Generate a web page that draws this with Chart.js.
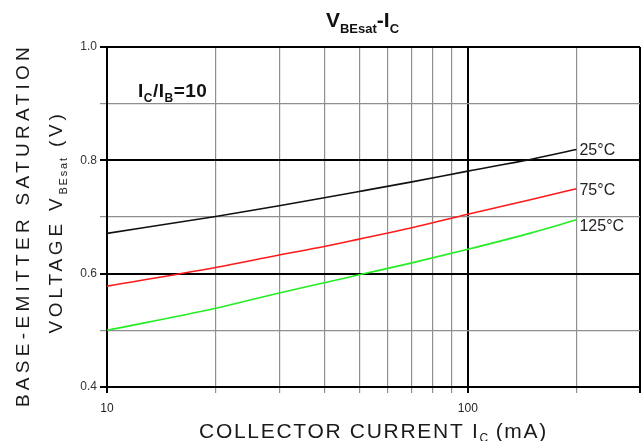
<!DOCTYPE html>
<html>
<head>
<meta charset="utf-8">
<script src="https://cdn.jsdelivr.net/npm/chart.js@4"></script>
<style>
html,body{margin:0;padding:0;background:#fff;}
#wrap{width:644px;height:441px;position:relative;}
</style>
</head>
<body>
<div id="wrap"><canvas id="c" width="644" height="441"></canvas></div>
<script>
// ---- data ----
const currents = [10, 20, 30, 40, 50, 70, 100, 150, 200];          // IC (mA)
const vbe25  = [0.671, 0.701, 0.720, 0.734, 0.745, 0.762, 0.781, 0.802, 0.819];
const vbe75  = [0.578, 0.611, 0.633, 0.648, 0.661, 0.681, 0.705, 0.731, 0.750];
const vbe125 = [0.500, 0.539, 0.566, 0.584, 0.598, 0.619, 0.643, 0.672, 0.695];
const seriesNames = ['25°C', '75°C', '125°C'];
const xTicks = [10, 20, 30, 40, 50, 60, 70, 80, 90, 100, 200, 300];
const xLabels = [10, 100];
const xMajor = [10, 100, 300];
const yTicks = [0.4, 0.5, 0.6, 0.7, 0.8, 0.9, 1.0];
const yLabels = ['0.4', '', '0.6', '', '0.8', '', '1.0'];

const FONT = 'Arial, "Liberation Sans", sans-serif';

function toPts(ys){ return currents.map((x,i)=>({x, y: ys[i]})); }

function richWidth(ctx, segs){
  let w = 0;
  segs.forEach(s=>{
    ctx.font = (s.bold?'bold ':'') + s.size + 'px ' + FONT;
    ctx.letterSpacing = (s.ls||0) + 'px';
    w += ctx.measureText(s.t).width;
  });
  return w;
}
function drawRich(ctx, segs, x, y, align){
  const w = richWidth(ctx, segs);
  let cx = align === 'left' ? x : x - w/2;
  ctx.textAlign = 'left';
  ctx.textBaseline = 'alphabetic';
  segs.forEach(s=>{
    ctx.font = (s.bold?'bold ':'') + s.size + 'px ' + FONT;
    ctx.letterSpacing = (s.ls||0) + 'px';
    ctx.fillStyle = s.color || '#111';
    ctx.fillText(s.t, cx, y + (s.dy||0));
    cx += ctx.measureText(s.t).width;
  });
  ctx.letterSpacing = '0px';
}

const decorPlugin = {
  id: 'decor',
  afterDraw(chart){
    const ctx = chart.ctx;
    const xs = chart.scales.x, ys = chart.scales.y;
    const ca = chart.chartArea;
    ctx.save();
    // title
    drawRich(ctx, [
      {t:'V', size:21, bold:true},
      {t:'BEsat', size:13, bold:true, dy:6},
      {t:'-I', size:21, bold:true},
      {t:'C', size:13, bold:true, dy:6}
    ], (ca.left+ca.right)/2 - 11, 27);
    // x title
    drawRich(ctx, [
      {t:'COLLECTOR CURRENT I', size:21, ls:1.7, color:'#1a1a1a'},
      {t:'C', size:12, dy:4, color:'#1a1a1a'},
      {t:' (mA)', size:21, ls:1.7, color:'#1a1a1a'}
    ], (ca.left+ca.right)/2, 438);
    // y titles (rotated)
    ctx.save();
    ctx.translate(29, 225);
    ctx.rotate(-Math.PI/2);
    drawRich(ctx, [{t:'BASE-EMITTER SATURATION', size:19, ls:4.3, color:'#1a1a1a'}], 0, 0);
    ctx.restore();
    ctx.save();
    ctx.translate(62, 222);
    ctx.rotate(-Math.PI/2);
    drawRich(ctx, [
      {t:'VOLTAGE V', size:19, ls:3.8, color:'#1a1a1a'},
      {t:'BEsat', size:11, ls:1.8, dy:5, color:'#1a1a1a'},
      {t:' (V)', size:19, ls:3.8, color:'#1a1a1a'}
    ], 0, 0);
    ctx.restore();
    // annotation IC/IB=10
    drawRich(ctx, [
      {t:'I', size:19, bold:true, ls:0.5},
      {t:'C', size:12, bold:true, dy:5, ls:0.5},
      {t:'/I', size:19, bold:true, ls:0.5},
      {t:'B', size:12, bold:true, dy:5, ls:0.5},
      {t:'=10', size:19, bold:true, ls:0.5}
    ], 138, 97, 'left');
    // series end labels
    const offs = [1, 2, 7];
    chart.data.datasets.forEach((ds, i)=>{
      const last = ds.data[ds.data.length-1];
      const px = xs.getPixelForValue(last.x) + 3;
      const py = ys.getPixelForValue(last.y) + offs[i];
      ctx.font = '16px ' + FONT;
      ctx.fillStyle = '#222';
      ctx.textAlign = 'left';
      ctx.textBaseline = 'middle';
      ctx.fillText(seriesNames[i], px, py);
    });
    ctx.restore();
  }
};

new Chart(document.getElementById('c'), {
  type: 'line',
  data: {
    datasets: [
      {label: seriesNames[0], data: toPts(vbe25),  borderColor:'#111111', borderWidth:1.6, pointRadius:0, cubicInterpolationMode:'monotone', fill:false},
      {label: seriesNames[1], data: toPts(vbe75),  borderColor:'#ff1a1a', borderWidth:1.6, pointRadius:0, cubicInterpolationMode:'monotone', fill:false},
      {label: seriesNames[2], data: toPts(vbe125), borderColor:'#22ee22', borderWidth:1.6, pointRadius:0, cubicInterpolationMode:'monotone', fill:false}
    ]
  },
  options: {
    responsive: false,
    animation: false,
    devicePixelRatio: 1,
    layout: {padding: {left: 0, right: 4, top: 47, bottom: 0}},
    plugins: {legend: {display:false}, title:{display:false}, tooltip:{enabled:false}},
    scales: {
      x: {
        type: 'logarithmic',
        min: 10, max: 300,
        afterBuildTicks: s => { s.ticks = xTicks.map(v=>({value:v})); },
        afterFit: s => { s.height = 54; s.paddingLeft = 0; s.paddingRight = 0; },
        ticks: {
          autoSkip: false, maxRotation: 0, padding: 8,
          color: '#222', font: {size: 12, family: FONT},
          callback: v => xLabels.includes(v) ? String(v) : ''
        },
        grid: {
          drawTicks: true, tickLength: 6,
          color: c => xMajor.includes(c.tick && c.tick.value) ? '#000' : '#8f8f8f',
          lineWidth: c => xMajor.includes(c.tick && c.tick.value) ? 2 : 1.2
        },
        border: {display: true, color:'#000', width: 2}
      },
      y: {
        type: 'linear',
        min: 0.4, max: 1.0,
        afterBuildTicks: s => { s.ticks = yTicks.map(v=>({value:v})); },
        afterFit: s => { s.width = 107; s.paddingTop = 0; s.paddingBottom = 0; },
        ticks: {
          autoSkip: false, padding: 3,
          color: '#333', font: {size: 12, family: FONT},
          callback: (v, i) => yLabels[i]
        },
        grid: {
          drawTicks: true, tickLength: 7,
          color: c => (c.index % 2 === 0) ? '#000' : '#8f8f8f',
          lineWidth: c => (c.index % 2 === 0) ? 2 : 1.2
        },
        border: {display: true, color:'#000', width: 2}
      }
    }
  },
  plugins: [decorPlugin]
});
</script>
</body>
</html>
